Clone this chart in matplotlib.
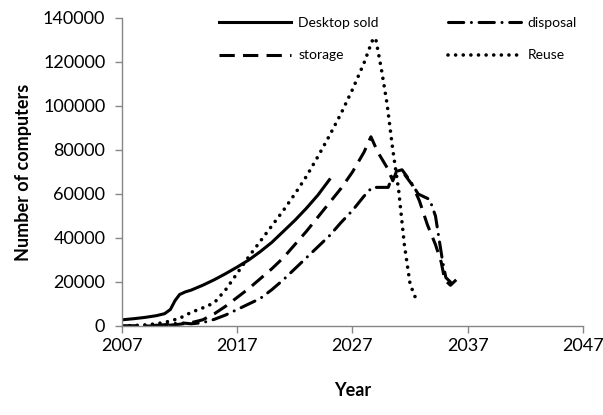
import matplotlib
matplotlib.use("Agg")
import matplotlib.pyplot as plt

plt.rcParams['font.family'] = ['Lato', 'DejaVu Sans']

# Desktop sold
desk_years = [2007, 2008, 2009, 2010, 2010.7, 2011.2, 2011.6, 2012, 2012.5, 2013, 2014,
              2015, 2016, 2017, 2018, 2019, 2020, 2021, 2022, 2023, 2024, 2025]
desk_sold = [2800, 3300, 3900, 4700, 5600, 7500, 11500, 14300, 15500, 16300, 18500,
             21000, 23800, 26800, 30000, 33800, 38000, 43000, 48000, 53500, 59500, 66500]

# storage
stor_years = [2007, 2008, 2009, 2010, 2011, 2012, 2013, 2014, 2015, 2016, 2017, 2018,
              2019, 2020, 2021, 2022, 2023, 2024, 2025, 2026, 2027, 2028, 2028.6,
              2029.2, 2030, 2030.5, 2030.8, 2031.5, 2032.2, 2032.8, 2033.5, 2034.2,
              2034.7, 2035, 2035.5, 2036]
storage = [0, 0, 0, 0, 300, 800, 1500, 2800, 5500, 9000, 13000, 17000,
           21500, 26000, 31000, 37000, 43000, 49500, 56000, 62500, 70000, 79000, 86000,
           79000, 72000, 66000, 70000, 69000, 64000, 57000, 46000, 37000,
           29000, 21000, 18500, 21000]

# disposal
disp_years = [2007, 2008, 2009, 2010, 2011, 2012, 2013, 2014, 2015, 2016, 2017, 2018,
              2019, 2020, 2021, 2022, 2023, 2024, 2025, 2026, 2027, 2028, 2028.7,
              2029.5, 2030.1, 2030.6, 2031.3, 2032, 2032.7, 2033.7, 2034.2, 2034.5,
              2034.8, 2035.1, 2035.5]
disposal = [0, 0, 200, 300, 700, 1500, 1000, 1500, 3000, 5000, 7500, 10000,
            12500, 16500, 21000, 26000, 31000, 36000, 41000, 47000, 52500, 59000, 63000,
            63000, 63000, 70000, 71000, 66000, 60000, 57500, 50000, 40000,
            30000, 22000, 20000]

# Reuse
reuse_years = [2007, 2008, 2009, 2010, 2011, 2012, 2013, 2014, 2015, 2016, 2017, 2018,
               2019, 2020, 2021, 2022, 2023, 2024, 2025, 2026, 2027, 2028, 2028.7,
               2029, 2029.5, 2030, 2030.5, 2031, 2031.5, 2032, 2032.6]
reuse = [0, 200, 500, 1000, 2000, 3500, 6200, 8200, 10500, 16500, 24000, 31500,
         38500, 45500, 52500, 60000, 68000, 77000, 86500, 96500, 107500, 119500, 129500,
         131000, 117000, 101000, 80000, 62000, 37000, 19000, 11000]

x_ticks = [2007, 2017, 2027, 2037, 2047]
y_ticks = [0, 20000, 40000, 60000, 80000, 100000, 120000, 140000]

fig = plt.figure(figsize=(6.03, 4.15), dpi=100)
ax = fig.add_axes([0.2023, 0.2145, 0.7645, 0.7422])

lw = 2.2
l1, = ax.plot(desk_years, desk_sold, color='black', lw=lw, label='Desktop sold')
l2, = ax.plot(disp_years, disposal, color='black', lw=lw, label='disposal',
              dashes=[5, 2.5, 0.01, 2.5], dash_capstyle='round')
l3, = ax.plot(stor_years, storage, color='black', lw=lw, label='storage',
              dashes=[5, 2.7], dash_capstyle='butt')
l4, = ax.plot(reuse_years, reuse, color='black', lw=2.6, label='Reuse',
              dashes=[0.01, 2.1], dash_capstyle='round')

ax.set_xlim(2007, 2047)
ax.set_ylim(0, 140000)
ax.set_xticks(x_ticks)
ax.set_yticks(y_ticks)
ax.tick_params(labelsize=13, length=5, color='#868686', width=1)
ax.tick_params(axis='y', pad=7)
ax.tick_params(axis='x', pad=4)

for side in ['top', 'right']:
    ax.spines[side].set_visible(False)
for side in ['left', 'bottom']:
    ax.spines[side].set_color('#868686')
    ax.spines[side].set_linewidth(1)

ax.set_xlabel('Year', fontsize=13, fontweight='bold', labelpad=20)
ax.set_ylabel('Number of computers', fontsize=13, fontweight='bold', labelpad=8)

# legend in two columns, no frame
ax.legend([l1, l3, l2, l4], ['Desktop sold', 'storage', 'disposal', 'Reuse'],
          ncol=2, frameon=False, fontsize=10, loc='upper left',
          bbox_to_anchor=(0.352, 0.975), bbox_transform=fig.transFigure,
          borderpad=0, handlelength=5.2, handletextpad=0.5,
          columnspacing=5.0, labelspacing=1.45)

fig.savefig('out.png', dpi=100)
